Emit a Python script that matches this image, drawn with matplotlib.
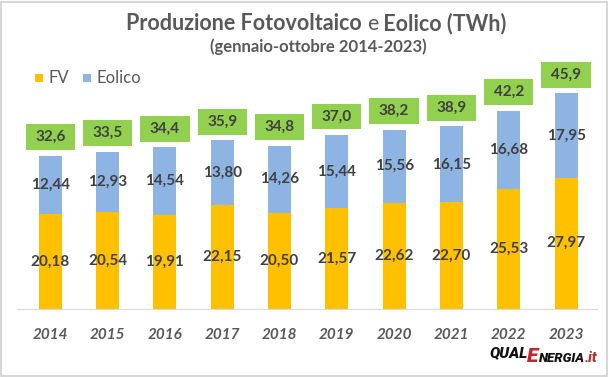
import matplotlib
matplotlib.use("Agg")
import matplotlib.pyplot as plt
from matplotlib.patches import Rectangle

years = ["2014", "2015", "2016", "2017", "2018", "2019", "2020", "2021", "2022", "2023"]
fv = [20.18, 20.54, 19.91, 22.15, 20.50, 21.57, 22.62, 22.70, 25.53, 27.97]
eolico = [12.44, 12.93, 14.54, 13.80, 14.26, 15.44, 15.56, 16.15, 16.68, 17.95]
totals = [32.6, 33.5, 34.4, 35.9, 34.8, 37.0, 38.2, 38.9, 42.2, 45.9]

plt.rcParams['font.family'] = ['Lato', 'DejaVu Sans']

W, H = 609, 377
fig = plt.figure(figsize=(W / 100, H / 100), dpi=100)
fig.patch.set_facecolor('white')
fig.patches.append(Rectangle((0.002, 0.003), 0.995, 0.993, transform=fig.transFigure,
                             fill=False, edgecolor='#d0d0d0', lw=1.2))

ax = fig.add_axes([17 / W, (377 - 309) / H, 580 / W, 235 / H])
x = list(range(len(years)))
ax.bar(x, fv, width=0.40, color='#FFC000', zorder=2)
ax.bar(x, eolico, width=0.40, bottom=fv, color='#8EB4E3', zorder=2)
ax.set_xlim(-0.58, 9.54)
ax.set_ylim(0, 50)
for s in ['top', 'right', 'left']:
    ax.spines[s].set_visible(False)
ax.spines['bottom'].set_color('#d9d9d9')
ax.set_yticks([])
ax.set_xticks(x)
ax.set_xticklabels(years, fontsize=11, fontstyle='italic', fontweight='bold', color='#595959')
ax.tick_params(axis='x', length=0, pad=14)

lab_col = '#404040'
box_w = 0.86
box_h = 5.5
for i in x:
    ax.text(i, fv[i] / 2, f"{fv[i]:.2f}".replace('.', ','), ha='center', va='center',
            fontsize=11, fontweight='bold', color=lab_col, zorder=3)
    ax.text(i, fv[i] + eolico[i] / 2, f"{eolico[i]:.2f}".replace('.', ','), ha='center', va='center',
            fontsize=11, fontweight='bold', color=lab_col, zorder=3)
    cy = totals[i] + 3.95
    ax.add_patch(Rectangle((i - box_w / 2, cy - box_h / 2), box_w, box_h,
                           facecolor='#92D050', edgecolor='none', zorder=2, clip_on=False))
    ax.text(i, cy, f"{totals[i]:.1f}".replace('.', ','), ha='center', va='center',
            fontsize=11, fontweight='bold', color=lab_col, zorder=3, clip_on=False)

renderer = fig.canvas.get_renderer()

# Title in pieces (middle "e" not bold)
tcol = '#595959'
pieces = [("Produzione Fotovoltaico ", 'bold'), ("e", 'normal'), (" Eolico (TWh)", 'bold')]
texts = []
for s, w in pieces:
    t = fig.text(0, 1 - 30 / H, s, fontsize=15.5, fontweight=w, color=tcol, va='baseline', ha='left')
    texts.append(t)
widths = [t.get_window_extent(renderer).width for t in texts]
total_w = sum(widths)
xpos = 316 - total_w / 2
for t, wdt in zip(texts, widths):
    t.set_x(xpos / W)
    xpos += wdt
fig.text(318 / W, 1 - 47 / H, "(gennaio-ottobre 2014-2023)", fontsize=12, fontweight='bold',
         color=tcol, ha='center', va='center')

# Legend
fig.patches.append(Rectangle((35 / W, 1 - 82 / H), 8 / W, 8 / H, transform=fig.transFigure,
                             facecolor='#FFC000', edgecolor='none'))
fig.text(48 / W, 1 - 78 / H, "FV", fontsize=12, color=tcol, va='center', ha='left')
fig.patches.append(Rectangle((83 / W, 1 - 82 / H), 8 / W, 8 / H, transform=fig.transFigure,
                             facecolor='#8EB4E3', edgecolor='none'))
fig.text(96 / W, 1 - 78 / H, "Eolico", fontsize=12, color=tcol, va='center', ha='left')

# Logo, laid out piece by piece
logo = [("QUAL", 11, '#111111', 357), ("E", 15, '#c0282d', 362),
        ("NERGIA", 9.5, '#111111', 362), (".it", 10, '#c0282d', 362)]
lx = 489
for s, fs, c, base in logo:
    t = fig.text(lx / W, 1 - base / H, s, fontsize=fs, fontweight='heavy', fontstyle='italic',
                 color=c, ha='left', va='baseline', family=['Roboto', 'DejaVu Sans'])
    lx += t.get_window_extent(renderer).width

fig.savefig("out.png", dpi=100)
